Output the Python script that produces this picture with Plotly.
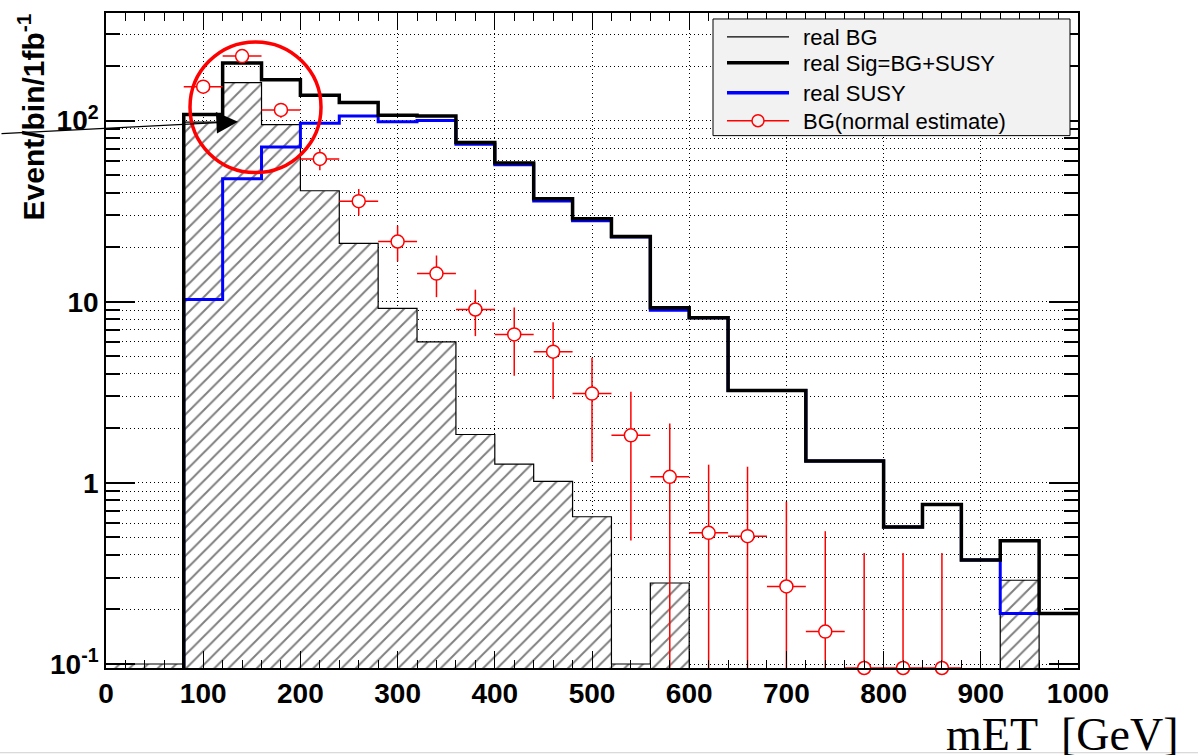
import plotly.graph_objects as go

# ---------------- data ----------------
bin_edges = list(range(0, 1001, 40))          # 25 bins of 40 GeV
bg_real = [0.1, 0.1, 98, 162, 95, 41, 21, 9.2, 6.0, 1.85, 1.27, 1.02, 0.65,
           0.1, 0.28, 0, 0, 0, 0, 0, 0, 0, 0, 0.29, 0]
sig_real = [0, 0, 108, 208, 168, 138, 126, 107, 106, 75.7, 58.4, 37, 28.7,
            22.9, 9.25, 8.15, 3.24, 3.24, 1.32, 1.32, 0.571, 0.76, 0.375, 0.479, 0.19]
susy_real = [0, 0, 10.3, 47.7, 71.4, 96.7, 106, 98.7, 100, 74, 57.1, 36, 28,
             22.8, 8.97, 8.15, 3.24, 3.24, 1.32, 1.32, 0.571, 0.76, 0.375, 0.19, 0.19]

est_x = list(range(100, 861, 40))
est_val = [154, 227, 114.5, 61.4, 35.9, 21.5, 14.3, 9.06, 6.6, 5.3, 3.11, 1.83,
           1.08, 0.53, 0.508, 0.268, 0.151, 0, 0, 0]
est_err = [12, 15, 10.7, 8.2, 6.0, 4.8, 3.7, 2.6, 2.7, 2.4, 1.8, 1.35,
           1.05, 0.73, 0.72, 0.52, 0.39, 0.41, 0.41, 0.41]
est_xerr = 20

x_tick_vals = list(range(0, 1001, 100))
y_tick_vals = [0.1, 1, 10, 100]
y_tick_text = ["10<sup>-1</sup>", "1", "10", "10<sup>2</sup>"]
y_minor_vals = [m * d for d in (0.1, 1, 10, 100) for m in range(2, 10) if m * d < 400]

legend_labels = ["real BG", "real Sig=BG+SUSY", "real SUSY", "BG(normal estimate)"]
x_title = "mET\u00a0\u00a0[GeV]"
y_title = "<b>Event/bin/1fb<sup>-1</sup></b>"

# ---------------- helpers ----------------
Y_LOG_RANGE = [-1.022, 2.594]
Y_BOTTOM = 10 ** Y_LOG_RANGE[0]
OFF = 1e-4   # value below the visible range (for empty bins)

def step(vals):
    xs, ys = [], []
    for i, v in enumerate(vals):
        xs.append(bin_edges[i])
        ys.append(v if v > 0 else OFF)
    xs.append(bin_edges[-1])
    ys.append(ys[-1])
    return xs, ys

centers = [(bin_edges[i] + bin_edges[i + 1]) / 2 for i in range(len(bg_real))]

# plot-area pixel geometry -> paper coords for decorations
L, R, T, B = 106, 1078, 11, 668
def px(x):
    return (x - L) / (R - L)
def py(y):
    return (B - y) / (B - T)

fig = go.Figure()

# hatched real BG
fig.add_trace(go.Bar(
    x=[c for c, v in zip(centers, bg_real) if v > 0],
    y=[v for v in bg_real if v > 0],
    width=40,
    marker=dict(color="white", line=dict(width=0),
                pattern=dict(shape="/", fgcolor="black", bgcolor="white",
                             size=10, solidity=0.2)),
    showlegend=False, hoverinfo="skip"))

# BG outline (thin)
xs, ys = step(bg_real)
fig.add_trace(go.Scatter(x=xs, y=ys, mode="lines", line=dict(color="black", width=1.2, shape="hv"),
                         showlegend=False, hoverinfo="skip"))
# SUSY (blue)
xs, ys = step(susy_real)
fig.add_trace(go.Scatter(x=xs, y=ys, mode="lines", line=dict(color="#0000ff", width=3, shape="hv"),
                         showlegend=False, hoverinfo="skip"))
# Sig (thick black)
xs, ys = step(sig_real)
fig.add_trace(go.Scatter(x=xs, y=ys, mode="lines", line=dict(color="black", width=3.5, shape="hv"),
                         showlegend=False, hoverinfo="skip"))

# BG normal estimate (red points)
y_disp = [v if v > 0 else Y_BOTTOM for v in est_val]
err_up = [v + e - yd for v, e, yd in zip(est_val, est_err, y_disp)]
err_dn = [yd - max(v - e, Y_BOTTOM) for v, e, yd in zip(est_val, est_err, y_disp)]
fig.add_trace(go.Scatter(
    x=est_x, y=y_disp, mode="markers",
    marker=dict(symbol="circle", size=13, color="white", line=dict(color="red", width=1.5)),
    error_x=dict(type="constant", value=est_xerr, color="red", thickness=1.5, width=0),
    error_y=dict(type="data", array=err_up, arrayminus=err_dn, symmetric=False,
                 color="red", thickness=1.5, width=0),
    cliponaxis=False, showlegend=False, hoverinfo="skip"))

tickfont = dict(family="Liberation Sans, Arial, sans-serif", size=28, color="black", weight="bold")
grid_dash = "1px,3px"

fig.update_layout(
    width=1198, height=755,
    margin=dict(l=L, r=1198 - R, t=T, b=755 - B),
    paper_bgcolor="white", plot_bgcolor="white",
    bargap=0, showlegend=False,
    xaxis=dict(range=[0, 1000], tickmode="array", tickvals=x_tick_vals,
               ticks="inside", ticklen=17, tickwidth=1, tickcolor="black",
               showline=True, linecolor="black", linewidth=1.5, mirror="ticks",
               showgrid=True, gridcolor="black", gridwidth=1, griddash=grid_dash,
               zeroline=False, tickfont=tickfont,
               minor=dict(dtick=20, ticks="inside", ticklen=8, tickcolor="black",
                          tickwidth=1, showgrid=False)),
    yaxis=dict(type="log", range=Y_LOG_RANGE, tickmode="array",
               tickvals=y_tick_vals, ticktext=y_tick_text,
               ticks="inside", ticklen=29, tickwidth=1.5, tickcolor="black",
               showline=True, linecolor="black", linewidth=1.5, mirror="ticks",
               showgrid=True, gridcolor="black", gridwidth=1, griddash=grid_dash,
               zeroline=False, tickfont=tickfont,
               minor=dict(tickmode="array", tickvals=y_minor_vals, ticks="inside",
                          ticklen=14, tickcolor="black", tickwidth=1.5,
                          showgrid=True, gridcolor="black", gridwidth=1, griddash=grid_dash)),
)

shapes = []
annotations = []

# legend box (drawn manually to match ROOT style)
shapes.append(dict(type="rect", xref="paper", yref="paper", layer="above",
                   x0=px(713), x1=px(1070), y0=py(134), y1=py(17),
                   fillcolor="#f2f2f2", line=dict(color="black", width=1)))
rows_y = [35, 61, 91, 119]
line_styles = [("black", 1.2), ("black", 3.5), ("#0000ff", 3.5), ("red", 1.5)]
for yy, (col, w), lab in zip(rows_y, line_styles, legend_labels):
    shapes.append(dict(type="line", xref="paper", yref="paper", layer="above",
                       x0=px(727), x1=px(789), y0=py(yy), y1=py(yy),
                       line=dict(color=col, width=w)))
    annotations.append(dict(xref="paper", yref="paper", x=px(801), y=py(yy + 1),
                            xanchor="left", yanchor="middle", showarrow=False, text=lab,
                            font=dict(family="Liberation Sans, Arial, sans-serif", size=22, color="black")))
shapes.append(dict(type="circle", xref="paper", yref="paper", layer="above",
                   x0=px(752), x1=px(764), y0=py(rows_y[3] + 6), y1=py(rows_y[3] - 6),
                   fillcolor="#f2f2f2", line=dict(color="red", width=1.5)))

# red highlight circle
shapes.append(dict(type="circle", xref="paper", yref="paper", layer="above",
                   x0=px(190), x1=px(321), y0=py(171), y1=py(40),
                   line=dict(color="red", width=3.5)))

# bottom separator line of the page
shapes.append(dict(type="line", xref="paper", yref="paper", layer="above",
                   x0=px(0), x1=px(1198), y0=py(753), y1=py(753),
                   line=dict(color="#cfcfcf", width=1)))

# black arrow
annotations.append(dict(xref="paper", yref="paper", x=px(238), y=py(120), ax=-238, ay=12,
                        text="", showarrow=True, arrowhead=2, arrowsize=3.6, arrowwidth=1.2,
                        arrowcolor="black", standoff=0))

# axis titles
annotations.append(dict(xref="paper", yref="paper", x=px(31), y=py(10),
                        xanchor="center", yanchor="top", textangle=-90, showarrow=False,
                        text=y_title,
                        font=dict(family="Liberation Sans, Arial, sans-serif", size=30, color="black")))
annotations.append(dict(xref="paper", yref="paper", x=px(944), y=py(735),
                        xanchor="left", yanchor="middle", showarrow=False, text=x_title,
                        font=dict(family="Liberation Serif, Times New Roman, serif", size=46, color="black")))

fig.update_layout(shapes=shapes, annotations=annotations)

fig.write_html("out.html")
